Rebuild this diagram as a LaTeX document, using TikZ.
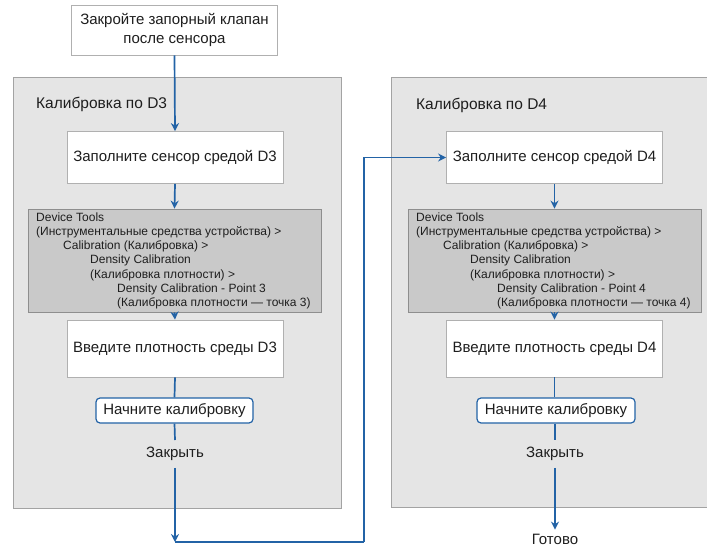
\documentclass[tikz,border=0pt]{standalone}
\usepackage{fontspec}
\setmainfont{Liberation Sans}
\usetikzlibrary{arrows.meta}

\definecolor{flowblue}{HTML}{2363A6}
\definecolor{panelfill}{HTML}{E5E5E5}
\definecolor{panelline}{HTML}{A3A3A3}
\definecolor{boxline}{HTML}{B0B0B0}
\definecolor{menufill}{HTML}{C9C9C9}
\definecolor{menuline}{HTML}{8E8E8E}
\definecolor{ink}{HTML}{1E1E1E}

\tikzset{
  panel/.style={draw=panelline, line width=1pt, fill=panelfill},
  stepbox/.style={draw=boxline, line width=0.8pt, fill=white, text=ink,
    minimum width=216pt, minimum height=52pt, inner sep=0pt,
    font=\fontsize{15}{19}\selectfont, align=center},
  menubox/.style={draw=menuline, line width=0.8pt, fill=menufill,
    minimum width=293pt, minimum height=103pt, inner sep=0pt},
  menutext/.style={text=ink, font=\fontsize{12}{14.2}\selectfont, align=left,
    inner sep=0pt, anchor=north west},
  actbox/.style={draw=flowblue, line width=1.2pt, rounded corners=4pt, fill=white,
    text=ink, minimum width=157pt, minimum height=25pt, inner sep=0pt,
    font=\fontsize{15}{18}\selectfont},
  plain/.style={text=ink, font=\fontsize{15}{18}\selectfont, inner sep=0pt},
  link/.style={draw=flowblue, line width=1.7pt},
  arr/.style={link, -{Stealth[length=8pt, width=8pt]}},
}

\newcommand{\menulines}[1]{%
  Device Tools\\
  (Инструментальные средства устройства) >\\
  \hspace*{27pt}Calibration (Калибровка) >\\
  \hspace*{54pt}Density Calibration\\
  \hspace*{54pt}(Калибровка плотности) >\\
  \hspace*{81pt}Density Calibration - Point #1\\
  \hspace*{81pt}(Калибровка плотности — точка #1)}

\begin{document}
\begin{tikzpicture}[x=1pt, y=-1pt]
  \useasboundingbox (0,0) rectangle (707,548);

  % panels
  \draw[panel] (13,78) rectangle (341,508);
  \draw[panel] (391,78) rectangle (712,507);
  \node[plain, anchor=west, font=\fontsize{15.5}{18}\selectfont] (lab3) at (36,104) {Калибровка по D3};
  \node[plain, anchor=west, font=\fontsize{15.5}{18}\selectfont] (lab4) at (416,105) {Калибровка по D4};

  % first step
  \node[stepbox, minimum width=206pt, minimum height=50pt] (top) at (174.5,30)
    {Закройте запорный клапан\\после сенсора};

  % D3 column
  \node[stepbox] (fill3) at (175,157.5) {Заполните сенсор средой D3};
  \node[menubox] (tools3) at (174.5,260.5) {};
  \node[menutext] (menu3) at (36,212.5) {\menulines{3}};
  \node[stepbox, minimum height=57pt] (enter3) at (175,348.5) {Введите плотность среды D3};
  \node[actbox] (start3) at (174.5,410.5) {Начните калибровку};
  \node[plain, inner ysep=7pt] (close3) at (175,454) {Закрыть};

  % D4 column
  \node[stepbox] (fill4) at (554.5,157.5) {Заполните сенсор средой D4};
  \node[menubox] (tools4) at (554.5,260.5) {};
  \node[menutext] (menu4) at (416,212.5) {\menulines{4}};
  \node[stepbox, minimum height=57pt] (enter4) at (554.5,348.5) {Введите плотность среды D4};
  \node[actbox, minimum width=158pt] (start4) at (556,410.5) {Начните калибровку};
  \node[plain, inner ysep=7pt] (close4) at (555,454) {Закрыть};
  \node[plain] (done) at (555,539) {Готово};

  % connectors
  \coordinate (turn1) at (175,542);
  \coordinate (turn2) at (364,542);

  \draw[arr] (top.south) -- (fill3.north);
  \draw[arr] (fill3.south) -- (tools3.north);
  \draw[arr] (tools3.south) -- (enter3.north);
  \draw[link] (enter3.south) -- (start3.north);
  \draw[link] (start3.south) -- (close3.north);
  \draw[arr] (close3.south) -- (turn1);
  \draw[link] (turn1) -- (turn2);
  \draw[arr] (turn2) |- (fill4.west);

  \draw[arr] (fill4.south) -- (tools4.north);
  \draw[arr] (tools4.south) -- (enter4.north);
  \draw[link] (enter4.south) -- (start4.north -| enter4.south);
  \draw[link] (start4.south -| close4.north) -- (close4.north);
  \draw[arr] (close4.south) -- ([yshift=4pt]done.north);
\end{tikzpicture}
\end{document}
